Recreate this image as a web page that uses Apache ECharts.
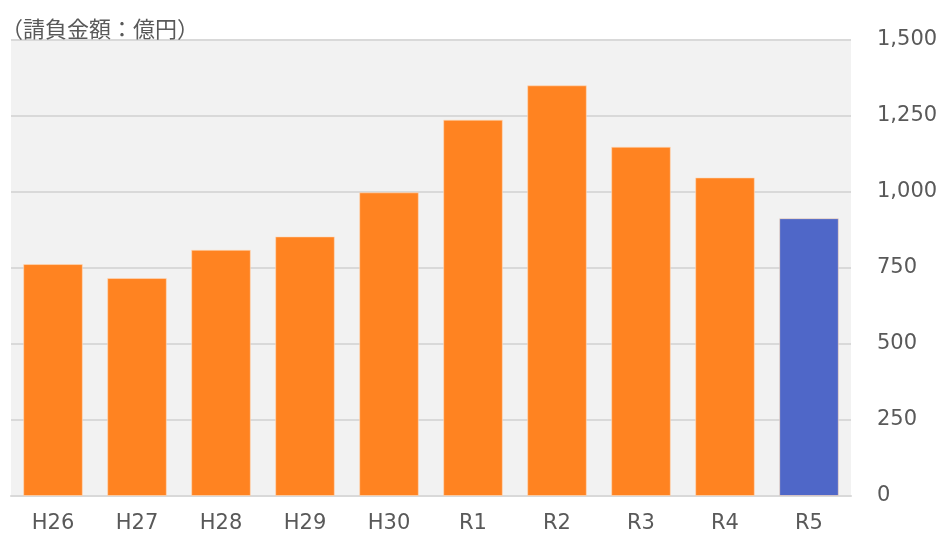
<!DOCTYPE html>
<html><head><meta charset="utf-8">
<script src="https://cdn.jsdelivr.net/npm/echarts@6/dist/echarts.min.js"></script>
<style>html,body{margin:0;padding:0;background:#fff}#c{width:944px;height:536px}</style>
</head><body><div id="c"></div>
<script>
const categories = ['H26','H27','H28','H29','H30','R1','R2','R3','R4','R5'];
const values = [763, 717, 810, 854, 999, 1238, 1351, 1149, 1048, 914];
const yTicks = [0, 250, 500, 750, 1000, 1250, 1500];
const unitLabel = '（請負金額：億円）';
const orange = '#FF8321', blue = '#4F67C8';
const chart = echarts.init(document.getElementById('c'));
chart.setOption({
  animation: false,
  backgroundColor: '#fff',
  title: { text: unitLabel, left: -4, top: 12, textStyle: { fontFamily: 'Noto Sans CJK JP', fontSize: 22, fontWeight: 'normal', color: '#595959', lineHeight: 24 } },
  grid: { left: 11, right: 93, top: 40, bottom: 40, show: true, backgroundColor: '#F2F2F2', borderWidth: 0 },
  xAxis: { type: 'category', data: categories,
    axisLine: { show: true, lineStyle: { color: '#D9D9D9', width: 2 } },
    axisTick: { show: false },
    axisLabel: { color: '#595959', fontFamily: 'DejaVu Sans', fontSize: 21, margin: 17 } },
  yAxis: { type: 'value', position: 'right', min: 0, max: 1500, interval: 250,
    axisLine: { show: false }, axisTick: { show: false },
    splitLine: { lineStyle: { color: '#D9D9D9', width: 2 } },
    axisLabel: { color: '#595959', fontFamily: 'DejaVu Sans', fontSize: 21, margin: 26,
      formatter: v => yTicks.includes(v) ? v.toLocaleString('en-US') : '' } },
  series: [{ type: 'bar', barWidth: '71%',
    data: values.map((v, i) => ({ value: v, itemStyle: { color: i === values.length - 1 ? blue : orange } })),
    itemStyle: { borderColor: 'rgba(255,220,190,0.6)', borderWidth: 1 } }]
});
</script></body></html>
